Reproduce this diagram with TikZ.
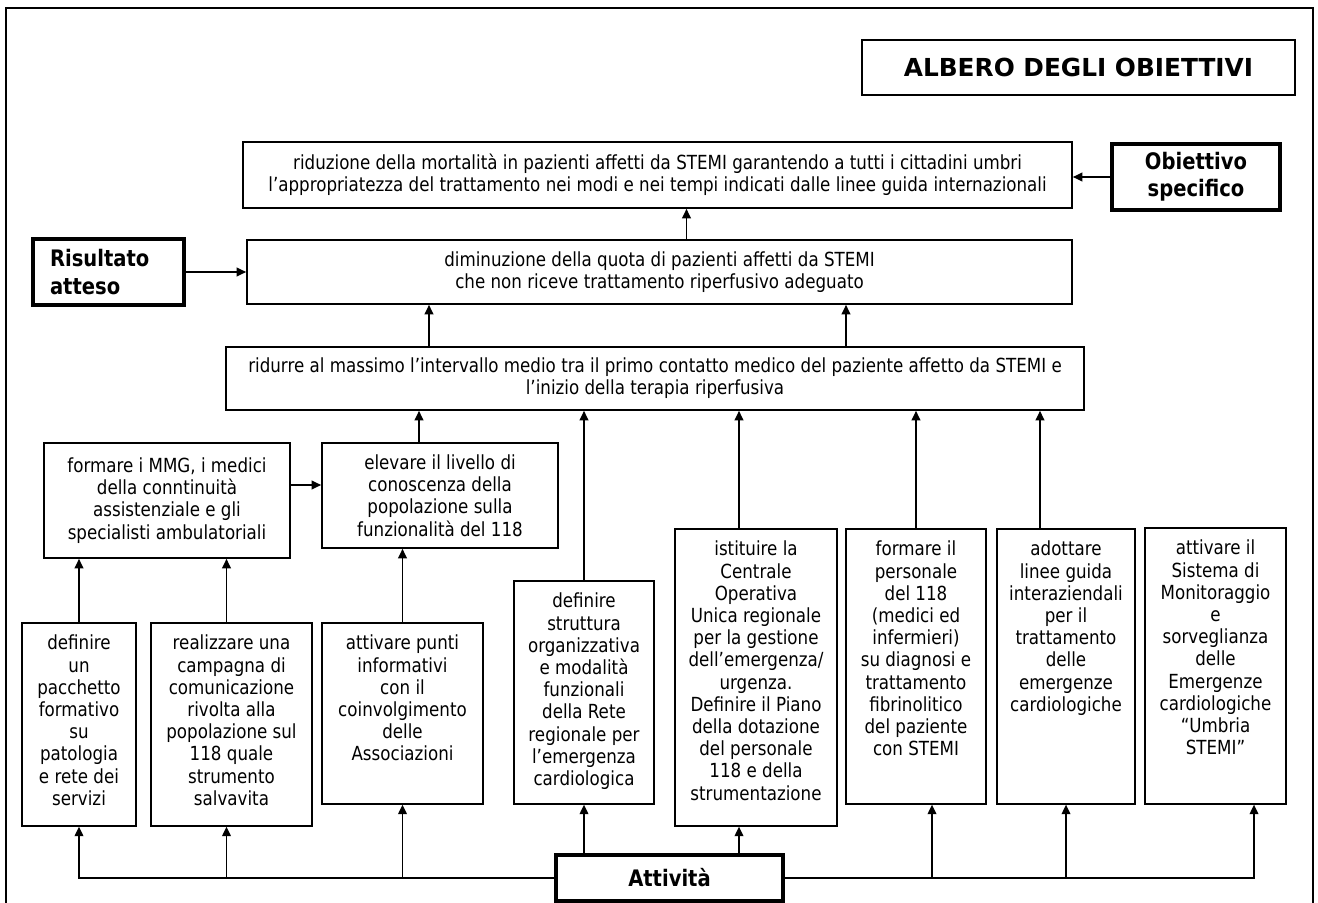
\documentclass[tikz,border=0pt]{standalone}
\usepackage{fontspec}
\setmainfont{DejaVu Sans}[FakeStretch=0.86]
\newfontfamily\titlefont{DejaVu Sans}
\usepackage{tikz}
\usetikzlibrary{arrows.meta}

\newlength\pxl
\setlength\pxl{0.484pt}
\newcommand\txt{\fontsize{9.4}{10.75}\selectfont}
\newcommand\keytxt{\fontsize{11}{13.1}\selectfont\bfseries}
\newcommand\colbox[3]{\parbox[t][#2\pxl][t]{#1\pxl}{\centering\rule{0pt}{27\pxl}#3}}

\begin{document}
\begin{tikzpicture}[x=0.484pt, y=-0.484pt,
  box/.style={draw, line width=0.8pt, inner sep=0pt, align=center, font=\txt},
  act/.style={box, anchor=north},
  key/.style={draw, line width=1.9pt, inner sep=0pt, align=center, font=\keytxt},
  arr/.style={-{Triangle[length=4.6pt,width=4.2pt]}, line width=0.75pt}]
\useasboundingbox (0,0) rectangle (1318,903);
\draw[line width=1.3pt] (6,903) -- (6,8) -- (1313,8) -- (1313,903);

\node[box, font=\titlefont\fontsize{12}{14}\selectfont\bfseries, minimum width=433*\pxl, minimum height=55*\pxl] (title) at (1078.5,67.5) {ALBERO DEGLI OBIETTIVI};

% obiettivi e risultato
\node[box, minimum width=829*\pxl, minimum height=66*\pxl] (goal) at (657.5,175) {riduzione della mortalità in pazienti affetti da STEMI garantendo a tutti i cittadini umbri\\l’appropriatezza del trattamento nei modi e nei tempi indicati dalle linee guida internazionali};
\node[key, minimum width=168*\pxl, minimum height=66*\pxl] (obj) at (1196,177) {Obiettivo\\specifico};
\node[box, minimum width=825*\pxl, minimum height=64*\pxl] (res) at (659.5,272) {diminuzione della quota di pazienti affetti da STEMI\\che non riceve trattamento riperfusivo adeguato};
\node[key, align=left, text width=117*\pxl, inner xsep=17*\pxl, minimum height=66*\pxl] (ris) at (108.5,272) {Risultato\\atteso};
\node[box, minimum width=858*\pxl, minimum height=63*\pxl] (med) at (655,378.5) {ridurre al massimo l’intervallo medio tra il primo contatto medico del paziente affetto da STEMI e\\l’inizio della terapia riperfusiva};
\node[box, minimum width=246*\pxl, minimum height=115*\pxl] (fmmg) at (167,500.5) {formare i MMG, i medici\\della conntinuità\\assistenziale e gli\\specialisti ambulatoriali};
\node[box, minimum width=236*\pxl, minimum height=105*\pxl] (elev) at (440,495.5) {elevare il livello di\\conoscenza della\\popolazione sulla\\funzionalità del 118};

% attività
\node[act] (a1) at (79,622) {\colbox{114}{203}{definire\\un\\pacchetto\\formativo\\su\\patologia\\e rete dei\\servizi}};
\node[act] (a2) at (231.5,622) {\colbox{161}{203}{realizzare una\\campagna di\\comunicazione\\rivolta alla\\popolazione sul\\118 quale\\strumento\\salvavita}};
\node[act] (a3) at (402.5,622) {\colbox{161}{181}{attivare punti\\informativi\\con il\\coinvolgimento\\delle\\Associazioni}};
\node[act] (a4) at (584,580) {\colbox{140}{223}{definire\\struttura\\organizzativa\\e modalità\\funzionali\\della Rete\\regionale per\\l’emergenza\\cardiologica}};
\node[act] (a5) at (756,528) {\colbox{162}{297}{istituire la\\Centrale\\Operativa\\Unica regionale\\per la gestione\\dell’emergenza/\\urgenza.\\Definire il Piano\\della dotazione\\del personale\\118 e della\\strumentazione}};
\node[act] (a6) at (916,528) {\colbox{140}{275}{formare il\\personale\\del 118\\(medici ed\\infermieri)\\su diagnosi e\\trattamento\\fibrinolitico\\del paziente\\con STEMI}};
\node[act] (a7) at (1066,528) {\colbox{138}{275}{adottare\\linee guida\\interaziendali\\per il\\trattamento\\delle\\emergenze\\cardiologiche}};
\node[act] (a8) at (1215.5,527) {\colbox{141}{276}{attivare il\\Sistema di\\Monitoraggio\\e\\sorveglianza\\delle\\Emergenze\\cardiologiche\\“Umbria\\STEMI”}};
\node[key, minimum width=227*\pxl, minimum height=46*\pxl] (att) at (669.5,878) {Attività};

% frecce verso l'alto
\draw[arr] (obj.west) -- (obj.west -| goal.east);
\draw[arr] (ris.east) -- (ris.east -| res.west);
\coordinate (r1) at ([xshift=27*\pxl]res.north);
\draw[arr] (r1) -- (r1 |- goal.south);
\coordinate (m1) at ([xshift=-226*\pxl]med.north);
\coordinate (m2) at ([xshift=191*\pxl]med.north);
\draw[arr] (m1) -- (m1 |- res.south);
\draw[arr] (m2) -- (m2 |- res.south);
\coordinate (e1) at ([xshift=-21*\pxl]elev.north);
\draw[arr] (e1) -- (e1 |- med.south);
\coordinate (f1) at ([yshift=15.5*\pxl]fmmg.east);
\draw[arr] (f1) -- (f1 -| elev.west);
\draw[arr] (a1.north) -- (a1.north |- fmmg.south);
\coordinate (b2) at ([xshift=-5*\pxl]a2.north);
\draw[arr] (b2) -- (b2 |- fmmg.south);
\draw[arr] (a3.north) -- (a3.north |- elev.south);
\draw[arr] (a4.north) -- (a4.north |- med.south);
\coordinate (b5) at ([xshift=-17*\pxl]a5.north);
\draw[arr] (b5) -- (b5 |- med.south);
\draw[arr] (a6.north) -- (a6.north |- med.south);
\coordinate (b7) at ([xshift=-26*\pxl]a7.north);
\draw[arr] (b7) -- (b7 |- med.south);

% dalle attività
\draw[arr] (att.west) -| (a1.south);
\draw[arr] (att.west -| b2) -- (b2 |- a2.south);
\draw[arr] (att.west -| a3.south) -- (a3.south);
\draw[arr] (att.north -| a4.south) -- (a4.south);
\draw[arr] (att.north -| b5) -- (b5 |- a5.south);
\coordinate (c6) at ([xshift=16*\pxl]a6.south);
\coordinate (c8) at ([xshift=38.5*\pxl]a8.south);
\draw[arr] (att.east) -| (c8);
\draw[arr] (att.east -| c6) -- (c6);
\draw[arr] (att.east -| a7.south) -- (a7.south);
\end{tikzpicture}
\end{document}
